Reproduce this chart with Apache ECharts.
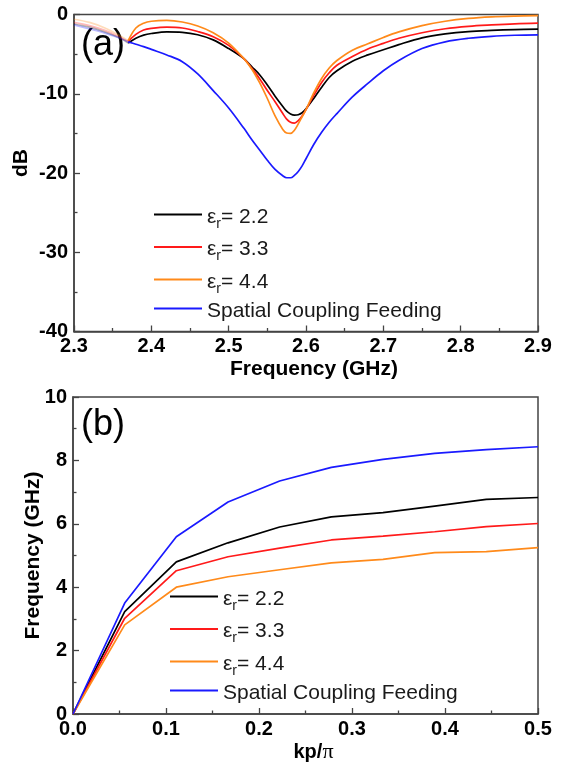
<!DOCTYPE html>
<html>
<head>
<meta charset="utf-8">
<script src="https://cdn.jsdelivr.net/npm/echarts@6/dist/echarts.min.js"></script>
<style>
  html, body { margin: 0; padding: 0; background: #fff; }
  #chart { width: 566px; height: 765px; }
</style>
</head>
<body>
<div id="chart"></div>
<script>
// ---- (a) return loss vs frequency ----
const freqGHz = [2.30, 2.32, 2.34, 2.36, 2.37, 2.38, 2.39, 2.40, 2.42, 2.44, 2.46, 2.48, 2.50,
  2.52, 2.53, 2.54, 2.55, 2.56, 2.57, 2.575, 2.58, 2.585, 2.59, 2.595, 2.60, 2.61, 2.62,
  2.63, 2.64, 2.66, 2.68, 2.70, 2.72, 2.75, 2.78, 2.81, 2.84, 2.87, 2.90];
const dbEr22 = [-1.2, -1.6, -2.2, -3.0, -3.6, -3.0, -2.6, -2.4, -2.2, -2.25, -2.55, -3.2, -4.3,
  -5.6, -6.6, -7.6, -8.9, -10.3, -11.6, -12.2, -12.55, -12.7, -12.65, -12.4, -11.9, -10.6, -9.2,
  -7.95, -7.1, -5.9, -5.1, -4.45, -3.8, -2.95, -2.45, -2.15, -2.0, -1.9, -1.85];
const dbEr33 = [-1.0, -1.4, -2.0, -2.9, -3.4, -2.5, -1.95, -1.75, -1.6, -1.7, -2.15, -2.8, -3.9,
  -5.6, -6.8, -8.1, -9.6, -11.0, -12.5, -13.2, -13.6, -13.7, -13.4, -12.8, -12.0, -10.2, -8.6,
  -7.35, -6.4, -5.3, -4.35, -3.65, -3.0, -2.3, -1.8, -1.5, -1.32, -1.18, -1.1];
const dbEr44 = [-0.6, -1.0, -1.7, -2.7, -3.3, -1.7, -1.1, -0.85, -0.75, -0.95, -1.45, -2.3, -3.6,
  -5.6, -6.9, -8.6, -10.6, -12.8, -14.5, -14.95, -15.0, -14.6, -13.8, -12.9, -12.0, -9.9, -8.1,
  -6.75, -5.8, -4.5, -3.7, -2.9, -2.2, -1.4, -0.85, -0.5, -0.3, -0.2, -0.15];
const dbSpatial = [-1.3, -1.8, -2.35, -3.0, -3.45, -3.75, -4.05, -4.4, -5.1, -5.95, -7.5, -9.6, -11.8,
  -14.4, -15.8, -17.1, -18.4, -19.55, -20.35, -20.6, -20.6, -20.3, -19.8, -19.1, -18.2, -16.4, -14.9,
  -13.6, -12.5, -10.4, -8.7, -7.1, -5.8, -4.3, -3.45, -3.0, -2.75, -2.62, -2.56];
// the traces below 2.37 GHz are drawn pale
const paleEnd = 4;

// ---- (b) dispersion ----
const kp = [0, 0.0556, 0.1111, 0.1667, 0.2222, 0.2778, 0.3333, 0.3889, 0.4444, 0.5];
const fEr22 = [0, 3.23, 4.8, 5.4, 5.9, 6.22, 6.35, 6.56, 6.77, 6.83];
const fEr33 = [0, 3.02, 4.52, 4.96, 5.23, 5.49, 5.61, 5.75, 5.91, 6.01];
const fEr44 = [0, 2.81, 4.0, 4.33, 4.55, 4.77, 4.88, 5.09, 5.12, 5.25];
const fSpatial = [0, 3.5, 5.59, 6.69, 7.35, 7.78, 8.03, 8.22, 8.34, 8.43];

const names = ['εr= 2.2', 'εr= 3.3', 'εr= 4.4', 'Spatial Coupling Feeding'];
const colors = ['#000000', '#ff1a1a', '#ff8a1a', '#1a1aff'];

const FONT = 'Liberation Sans, Arial, sans-serif';
const AXIS_COLOR = '#444';

function pairs(xs, ys, from, to) {
  const out = [];
  for (let i = from; i < to; i++) out.push([xs[i], ys[i]]);
  return out;
}

const tickLabel = { color: '#000', fontFamily: FONT, fontWeight: 'bold', fontSize: 20 };

function valueAxis(extra) {
  return Object.assign({
    type: 'value',
    axisLine: { show: true, onZero: false, lineStyle: { color: AXIS_COLOR, width: 1.5 } },
    axisTick: { show: true, inside: true, length: 6, lineStyle: { color: AXIS_COLOR, width: 1.3 } },
    minorTick: { show: true, splitNumber: 2, length: 3.5, lineStyle: { color: AXIS_COLOR, width: 1.3 } },
    splitLine: { show: false },
    nameLocation: 'middle',
    nameMoveOverlap: false
  }, extra);
}
function axisName(extra) {
  return Object.assign({ color: '#000', fontFamily: FONT, fontWeight: 'bold', fontSize: 21 }, extra);
}

function legendFormatter(name) {
  if (name.startsWith('εr')) {
    return '{m|ε}{s|r}{m|' + name.slice(2) + '}';
  }
  return '{m|' + name + '}';
}
const legendRich = {
  m: { fontFamily: FONT, fontSize: 21, color: '#1a1a1a', lineHeight: 22, padding: [5, 0, 0, 0], verticalAlign: 'middle' },
  s: { fontFamily: FONT, fontSize: 14, color: '#1a1a1a', lineHeight: 14, padding: [19, 0, 0, 0], verticalAlign: 'middle' }
};
function legendAt(left, top) {
  return {
    orient: 'vertical', left: left, top: top, padding: 0,
    itemWidth: 48, itemHeight: 2, itemGap: -0.5, icon: 'rect',
    data: names,
    formatter: legendFormatter,
    textStyle: { rich: legendRich },
    selectedMode: false
  };
}

const series = [];
const seriesA = [dbEr22, dbEr33, dbEr44, dbSpatial];
seriesA.forEach((vals, i) => {
  series.push({
    name: names[i], type: 'line', xAxisIndex: 0, yAxisIndex: 0,
    data: pairs(freqGHz, vals, paleEnd, freqGHz.length),
    smooth: 0.35, symbol: 'none',
    lineStyle: { color: colors[i], width: 1.7 }, itemStyle: { color: colors[i] },
    z: 3 + i
  });
});
seriesA.forEach((vals, i) => {
  series.push({
    name: names[i], type: 'line', xAxisIndex: 0, yAxisIndex: 0,
    data: pairs(freqGHz, vals, 0, paleEnd + 1),
    smooth: 0.35, symbol: 'none',
    lineStyle: { color: colors[i], width: 1.7, opacity: 0.3 }, itemStyle: { color: colors[i] },
    z: 2
  });
});
const seriesB = [fEr22, fEr33, fEr44, fSpatial];
seriesB.forEach((vals, i) => {
  series.push({
    name: names[i], type: 'line', xAxisIndex: 1, yAxisIndex: 1,
    data: pairs(kp, vals, 0, kp.length),
    symbol: 'none',
    lineStyle: { color: colors[i], width: 1.7 }, itemStyle: { color: colors[i] },
    z: 3 + i
  });
});

const chart = echarts.init(document.getElementById('chart'), null, { renderer: 'canvas' });
chart.setOption({
  animation: false,
  backgroundColor: '#fff',
  grid: [
    { left: 74, top: 14.5, width: 464, height: 317, show: true, borderColor: AXIS_COLOR, borderWidth: 1.5 },
    { left: 73, top: 397, width: 465, height: 317, show: true, borderColor: AXIS_COLOR, borderWidth: 1.5 }
  ],
  xAxis: [
    valueAxis({ gridIndex: 0, min: 2.3, max: 2.9, interval: 0.1, name: 'Frequency (GHz)', nameGap: 27,
      nameTextStyle: axisName({ padding: [0, 0, 0, 16] }),
      axisLabel: Object.assign({ margin: 5, formatter: v => v.toFixed(1) }, tickLabel) }),
    valueAxis({ gridIndex: 1, min: 0, max: 0.5, interval: 0.1, name: '{k|kp/}{p|π}', nameGap: 27,
      nameTextStyle: { padding: [0, 0, 0, 16], rich: {
        k: { fontFamily: FONT, fontWeight: 'bold', fontSize: 20, color: '#000' },
        p: { fontFamily: 'Liberation Serif, serif', fontSize: 22, color: '#000' } } },
      axisLabel: Object.assign({ margin: 5, formatter: v => v.toFixed(1) }, tickLabel) })
  ],
  yAxis: [
    valueAxis({ gridIndex: 0, min: -40, max: 0, interval: 10, name: 'dB', nameGap: 42,
      nameTextStyle: axisName({ padding: [0, 0, 0, 20] }),
      axisLabel: Object.assign({ margin: 6 }, tickLabel) }),
    valueAxis({ gridIndex: 1, min: 0, max: 10, interval: 2, name: 'Frequency (GHz)', nameGap: 29,
      nameTextStyle: axisName({}),
      axisLabel: Object.assign({ margin: 6 }, tickLabel) })
  ],
  legend: [legendAt(154, 198), legendAt(170, 580)],
  graphic: [
    { type: 'text', left: 81, top: 27, style: { text: '(a)', fontFamily: FONT, fontSize: 36, fill: '#000' } },
    { type: 'text', left: 81, top: 407, style: { text: '(b)', fontFamily: FONT, fontSize: 36, fill: '#000' } }
  ],
  series: series
});
</script>
</body>
</html>
